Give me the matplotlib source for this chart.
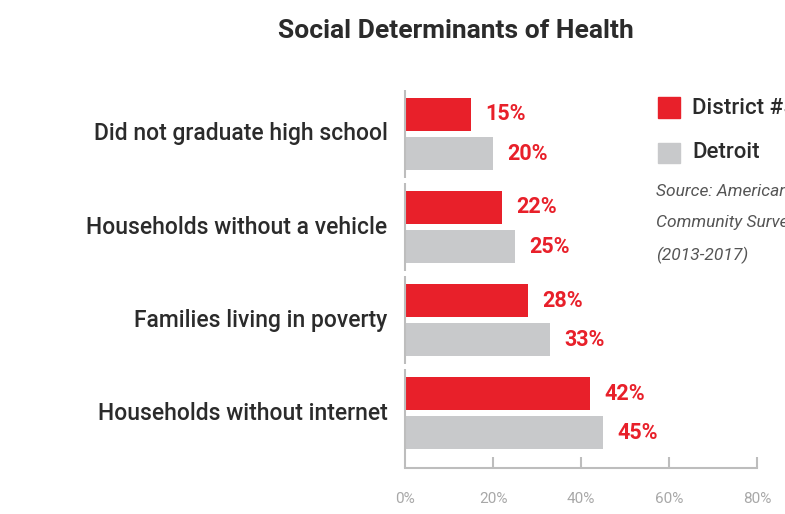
import numpy as np
import matplotlib.pyplot as plt
from matplotlib.patches import Rectangle

plt.rcParams['font.family'] = ['Roboto', 'DejaVu Sans']

categories = ['Did not graduate high school', 'Households without a vehicle',
              'Families living in poverty', 'Households without internet']
district = [15, 22, 28, 42]
detroit = [20, 25, 33, 45]
xticks = [0, 20, 40, 60, 80]

red = '#e8202a'
grey = '#c8c9cb'
txt = '#2b2b2b'

W, H = 785, 514
fig = plt.figure(figsize=(W / 100, H / 100), dpi=100)
ax = fig.add_axes([405 / W, (H - 468) / H, (757 - 405) / W, (468 - 80) / H])

y = np.arange(len(categories))
off = 0.21
bh = 0.355
ax.barh(y - off, district, height=bh, color=red)
ax.barh(y + off, detroit, height=bh, color=grey)

for yi, v in zip(y, district):
    ax.text(v + 3.3, yi - off, f'{v}%', color=red, fontsize=15.5,
            fontweight='bold', va='center', ha='left')
for yi, v in zip(y, detroit):
    ax.text(v + 3.3, yi + off, f'{v}%', color=red, fontsize=15.5,
            fontweight='bold', va='center', ha='left')

# category labels and short left separators per group
for yi, c in zip(y, categories):
    ax.text(-4, yi, c, ha='right', va='center', fontsize=16.5, color=txt,
            fontweight='medium')
    ax.plot([0, 0], [yi - 0.47, yi + 0.47], color='#bdbdbd', lw=1.5,
            solid_capstyle='butt', clip_on=False)

ax.set_xlim(0, 80)
ax.set_ylim(3.59, -0.58)
for s in ['top', 'right', 'left']:
    ax.spines[s].set_visible(False)
ax.spines['bottom'].set_color('#bdbdbd')
ax.spines['bottom'].set_linewidth(1.5)
ax.set_yticks([])
ax.set_xticks(xticks)
ax.set_xticklabels([f'{t}%' for t in xticks])
ax.tick_params(axis='x', direction='in', length=8, width=1.5, color='#bdbdbd',
               labelcolor='#a8a8a8', labelsize=11, pad=17)

fig.text(456 / W, 1 - 31 / H, 'Social Determinants of Health', ha='center',
         va='center', fontsize=19, fontweight='bold', color=txt)

# legend block, running off the right edge
fig.patches.append(Rectangle((658 / W, 1 - 118 / H), 22 / W, 21 / H,
                             transform=fig.transFigure, color=red))
fig.patches.append(Rectangle((658 / W, 1 - 163 / H), 22 / W, 20 / H,
                             transform=fig.transFigure, color=grey))
fig.text(692 / W, 1 - 108 / H, 'District #5', va='center', fontsize=16, color=txt,
         fontweight='medium')
fig.text(692 / W, 1 - 153 / H, 'Detroit', va='center', fontsize=16, color=txt,
         fontweight='medium')
src = ['Source: American', 'Community Survey', '(2013-2017)']
for i, line in enumerate(src):
    fig.text(656 / W, 1 - (191 + 32 * i) / H, line, va='center', fontsize=12.5,
             style='italic', color='#555555')

fig.savefig('out.png', dpi=100)
